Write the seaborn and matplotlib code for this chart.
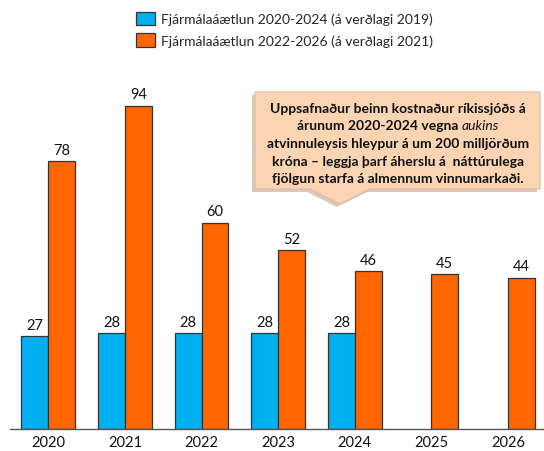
import pandas as pd
import matplotlib.pyplot as plt
import seaborn as sns
from matplotlib.patches import Polygon
from matplotlib.offsetbox import TextArea, HPacker, VPacker, AnchoredOffsetbox

years = ['2020', '2021', '2022', '2023', '2024', '2025', '2026']
plan_2020 = [27, 28, 28, 28, 28, None, None]
plan_2022 = [78, 94, 60, 52, 46, 45, 44]
label_2020 = 'Fjármálaáætlun 2020-2024 (á verðlagi 2019)'
label_2022 = 'Fjármálaáætlun 2022-2026 (á verðlagi 2021)'

rows = []
for y, a, b in zip(years, plan_2020, plan_2022):
    if a is not None:
        rows.append({'Ár': y, 'Áætlun': label_2020, 'Milljarðar': a})
    rows.append({'Ár': y, 'Áætlun': label_2022, 'Milljarðar': b})
df = pd.DataFrame(rows)

sns.set_theme(style='white', rc={'axes.facecolor': 'white', 'figure.facecolor': 'white'})
plt.rcParams['font.family'] = ['Lato', 'DejaVu Sans']

fig = plt.figure(figsize=(5.44, 4.52), dpi=100)
ax = fig.add_axes([10 / 544, 22 / 452, 534 / 544, 0.82])

sns.barplot(data=df, x='Ár', y='Milljarðar', hue='Áætlun', order=years,
            hue_order=[label_2020, label_2022], palette=['#00B0F0', '#FF6600'],
            saturation=1, width=0.7, edgecolor='#333333', linewidth=0.9, ax=ax)

for c in ax.containers:
    ax.bar_label(c, padding=3, fontsize=10.5, color='#111111')

ax.set_xlim(-0.5, 6.47)
ax.set_ylim(0, 0.82 * 452 / 3.44)
ax.set_xlabel('')
ax.set_ylabel('')
ax.set_yticks([])
ax.tick_params(axis='x', labelsize=10.5, length=0, pad=4, colors='#111111')
for s in ['top', 'right', 'left']:
    ax.spines[s].set_visible(False)
ax.spines['bottom'].set_color('#555555')
ax.spines['bottom'].set_linewidth(1.0)

sns.move_legend(ax, 'upper left', bbox_to_anchor=(130 / 544, 1 - 7 / 452),
                bbox_transform=fig.transFigure, title=None, frameon=False,
                fontsize=10, handlelength=1.37, handleheight=1.15,
                labelspacing=0.58, handletextpad=0.45, borderaxespad=0)

# callout box
def fp(x, y):
    return (x / 544, 1 - y / 452)

shape = [(255, 93), (540, 93), (540, 190), (370, 190), (340, 205), (310, 190), (255, 190)]
shadow = Polygon([fp(x - 3, y + 3) for x, y in shape], closed=True, transform=fig.transFigure,
                 facecolor='#d9c8bb', edgecolor='none', zorder=4)
box = Polygon([fp(x, y) for x, y in shape], closed=True, transform=fig.transFigure,
              facecolor='#FBD4B4', edgecolor='#e3b89a', linewidth=0.8, zorder=5)
fig.patches.extend([shadow, box])

bold = dict(fontsize=10, fontweight='bold', color='#111111')
ital = dict(fontsize=10, fontstyle='italic', color='#111111')
lines = [
    TextArea('Uppsafnaður beinn kostnaður ríkissjóðs á', textprops=bold),
    HPacker(children=[TextArea('árunum 2020-2024 vegna ', textprops=bold),
                      TextArea('aukins', textprops=ital)], pad=0, sep=0, align='baseline'),
    TextArea('atvinnuleysis hleypur á um 200 milljörðum', textprops=bold),
    TextArea('króna – leggja þarf áherslu á  náttúrulega', textprops=bold),
    TextArea('fjölgun starfa á almennum vinnumarkaði.', textprops=bold),
]
pack = VPacker(children=lines, pad=0, sep=4, align='center')
anch = AnchoredOffsetbox(loc='center', child=pack, frameon=False,
                         bbox_to_anchor=fp(398, 144), bbox_transform=fig.transFigure,
                         pad=0, borderpad=0)
anch.set_zorder(6)
fig.add_artist(anch)

plt.savefig('out.png', dpi=100)
